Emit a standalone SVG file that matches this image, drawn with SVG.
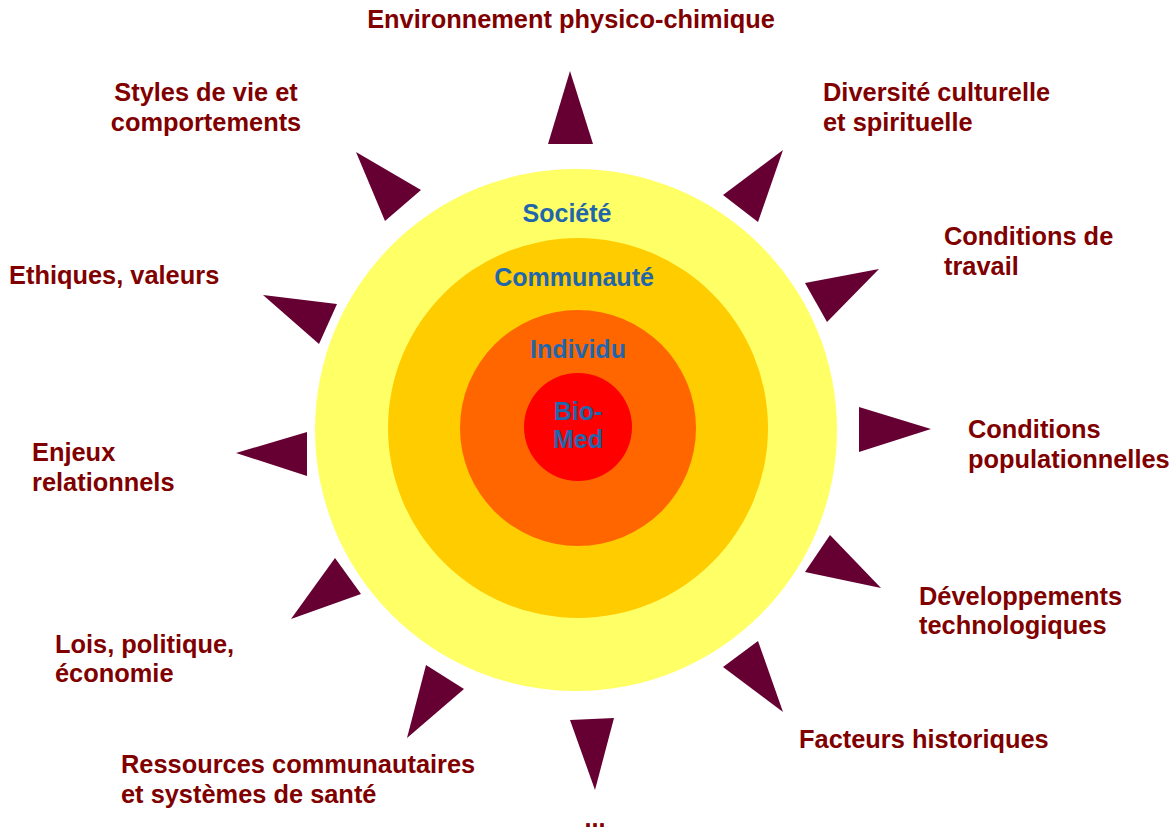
<svg xmlns="http://www.w3.org/2000/svg" width="1175" height="829" viewBox="0 0 1175 829">
  <style>
    .lbl { font-family: "Liberation Sans", Arial, sans-serif; font-weight: bold; font-size: 25.4px; fill: #800000; }
    .ring { font-family: "Liberation Sans", Arial, sans-serif; font-weight: bold; font-size: 25px; fill: #1f66ad; text-anchor: middle; }
    .ray { fill: #660033; }
  </style>
  <rect width="1175" height="829" fill="#ffffff"/>

  <!-- concentric levels -->
  <g id="sun">
    <g id="societe">
      <circle cx="576" cy="430" r="261" fill="#ffff66"/>
      <text class="ring" x="567" y="222">Société</text>
    </g>
    <g id="communaute">
      <circle cx="578" cy="428" r="190" fill="#ffcc00"/>
      <text class="ring" x="574" y="286">Communauté</text>
    </g>
    <g id="individu">
      <circle cx="578" cy="428" r="118" fill="#ff6600"/>
      <text class="ring" x="578" y="358">Individu</text>
    </g>
    <g id="biomed">
      <circle cx="578" cy="427" r="54" fill="#ff0000"/>
      <text class="ring" x="578" y="420">Bio-</text>
      <text class="ring" x="578" y="448">Med</text>
    </g>
  </g>

  <!-- rays pointing out to each factor -->
  <g id="rays">
    <polygon class="ray" points="570,71 548,144 593,144"/>
    <polygon class="ray" points="783,150 723,195 758,222"/>
    <polygon class="ray" points="879,269 805,283 827,322"/>
    <polygon class="ray" points="859,407 931,429 859,452"/>
    <polygon class="ray" points="830,535 805,572 881,588"/>
    <polygon class="ray" points="758,641 723,667 783,712"/>
    <polygon class="ray" points="570,720 614,718 595,790"/>
    <polygon class="ray" points="426,665 464,689 407,738"/>
    <polygon class="ray" points="335,558 361,594 291,619"/>
    <polygon class="ray" points="236,453 307,432 307,476"/>
    <polygon class="ray" points="263,295 337,304 319,344"/>
    <polygon class="ray" points="356,152 421,190 385,221"/>
  </g>

  <!-- factor labels -->
  <g id="environnement">
    <text class="lbl" x="571" y="28" text-anchor="middle">Environnement physico-chimique</text>
  </g>
  <g id="diversite">
    <text class="lbl" x="823" y="101">Diversité culturelle</text>
    <text class="lbl" x="823" y="131">et spirituelle</text>
  </g>
  <g id="travail">
    <text class="lbl" x="944" y="245">Conditions de</text>
    <text class="lbl" x="944" y="275">travail</text>
  </g>
  <g id="population">
    <text class="lbl" x="968" y="438">Conditions</text>
    <text class="lbl" x="968" y="468">populationnelles</text>
  </g>
  <g id="technologie">
    <text class="lbl" x="919" y="605">Développements</text>
    <text class="lbl" x="919" y="634">technologiques</text>
  </g>
  <g id="histoire">
    <text class="lbl" x="799" y="748">Facteurs historiques</text>
  </g>
  <g id="autres">
    <text class="lbl" x="595" y="827" text-anchor="middle">...</text>
  </g>
  <g id="ressources">
    <text class="lbl" x="121" y="773">Ressources communautaires</text>
    <text class="lbl" x="121" y="803">et systèmes de santé</text>
  </g>
  <g id="lois">
    <text class="lbl" x="55" y="653">Lois, politique,</text>
    <text class="lbl" x="55" y="682">économie</text>
  </g>
  <g id="relations">
    <text class="lbl" x="32" y="461">Enjeux</text>
    <text class="lbl" x="32" y="491">relationnels</text>
  </g>
  <g id="ethique">
    <text class="lbl" x="9" y="284">Ethiques, valeurs</text>
  </g>
  <g id="styles">
    <text class="lbl" x="206" y="101" text-anchor="middle">Styles de vie et</text>
    <text class="lbl" x="206" y="131" text-anchor="middle">comportements</text>
  </g>
</svg>
